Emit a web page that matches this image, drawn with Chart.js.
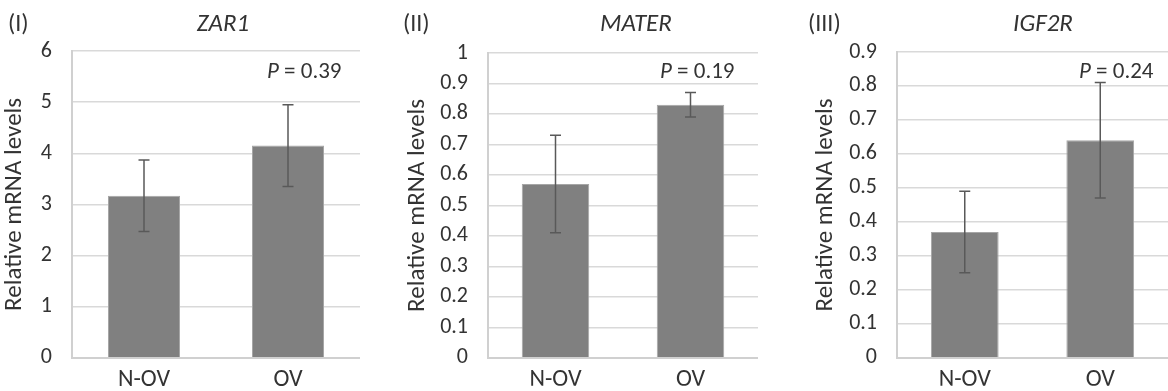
<!DOCTYPE html>
<html>
<head>
<meta charset="utf-8">
<script src="https://cdn.jsdelivr.net/npm/chart.js@4/dist/chart.umd.min.js"></script>
<style>
  body { margin: 0; background: #fff; }
  #wrap { position: relative; width: 1168px; height: 391px; overflow: hidden; }
  canvas { position: absolute; top: 0; }
</style>
</head>
<body>
<div id="wrap">
  <canvas id="c1" width="360" height="391" style="left:0px"></canvas>
  <canvas id="c2" width="368" height="391" style="left:390px"></canvas>
  <canvas id="c3" width="388" height="391" style="left:780px"></canvas>
</div>
<script>
// データ
const categories = ['N-OV', 'OV'];
const zar1Means = [3.17, 4.15];
const zar1Errors = [0.70, 0.80];
const materMeans = [0.57, 0.83];
const materErrors = [0.16, 0.04];
const igf2rMeans = [0.37, 0.64];
const igf2rErrors = [0.12, 0.17];
const panelLabels = ['(I)', '(II)', '(III)'];
const geneNames = ['ZAR1', 'MATER', 'IGF2R'];
const pValues = ['0.39', '0.19', '0.24'];
const yMax = [6, 1, 0.9];
const yStep = [1, 0.1, 0.1];
const yTitle = 'Relative mRNA levels';

const FONT = 'Carlito, Lato, sans-serif';
const TEXT = '#333333';

// 誤差棒
const errorBars = {
  id: 'errorBars',
  afterDatasetsDraw(chart, args, opts) {
    let ctx = chart.ctx;
    let y = chart.scales.y;
    let meta = chart.getDatasetMeta(0);
    let means = chart.data.datasets[0].data;
    ctx.save();
    ctx.strokeStyle = '#595959';
    ctx.lineWidth = 1.5;
    meta.data.forEach((bar, i) => {
      let top = y.getPixelForValue(means[i] + opts.errors[i]);
      let bot = y.getPixelForValue(means[i] - opts.errors[i]);
      ctx.beginPath();
      ctx.moveTo(bar.x, top); ctx.lineTo(bar.x, bot);
      ctx.moveTo(bar.x - 5.5, top); ctx.lineTo(bar.x + 5.5, top);
      ctx.moveTo(bar.x - 5.5, bot); ctx.lineTo(bar.x + 5.5, bot);
      ctx.stroke();
    });
    ctx.restore();
  }
};

// ラベル類
const labels = {
  id: 'labels',
  afterDraw(chart, args, opts) {
    let ctx = chart.ctx;
    ctx.save();
    ctx.fillStyle = TEXT;
    ctx.textBaseline = 'middle';
    ctx.font = '24px ' + FONT;
    ctx.textAlign = 'left';
    ctx.fillText(opts.panel, opts.panelX, 25);
    ctx.font = 'italic 25px ' + FONT;
    ctx.textAlign = 'center';
    ctx.fillText(opts.gene, opts.geneX, 25);
    // P = x.xx
    ctx.textAlign = 'left';
    ctx.font = 'italic 23px ' + FONT;
    let x = opts.pX;
    ctx.fillText('P', x, 72);
    x += ctx.measureText('P').width;
    ctx.font = '23px ' + FONT;
    ctx.fillText(' = ' + opts.p, x, 72);
    ctx.restore();
  }
};

function makePanel(id, i, means, errors, geo) {
  return new Chart(document.getElementById(id), {
    type: 'bar',
    data: {
      labels: categories,
      datasets: [{
        data: means,
        backgroundColor: '#808080',
        borderColor: '#a6a6a6',
        borderWidth: 1,
        categoryPercentage: 1,
        barPercentage: 0.5,
      }],
    },
    options: {
      responsive: false,
      animation: false,
      layout: { padding: { top: geo.top, left: 0, right: 0, bottom: 0 } },
      plugins: {
        legend: { display: false },
        tooltip: { enabled: false },
        errorBars: { errors: errors },
        labels: { panel: panelLabels[i], gene: geneNames[i], p: pValues[i],
                  panelX: geo.panelX, geneX: geo.geneX, pX: geo.pX },
      },
      scales: {
        x: {
          grid: { display: false },
          border: { color: '#d0d0d0', width: 2 },
          ticks: { color: TEXT, font: { family: FONT, size: 24 }, padding: 0 },
          afterFit: (s) => { s.height = 391 - geo.bottom; },
        },
        y: {
          min: 0,
          max: yMax[i],
          grid: { color: '#d9d9d9', lineWidth: 1.5, drawTicks: false },
          border: { color: '#d0d0d0', width: 2 },
          ticks: {
            stepSize: yStep[i],
            color: TEXT,
            padding: 20,
            font: { family: FONT, size: 22 },
            callback: (v) => String(Math.round(v * 10) / 10),
          },
          title: {
            display: true,
            text: yTitle,
            color: TEXT,
            font: { family: FONT, size: 25 },
            padding: { top: geo.titlePad, bottom: 0 },
          },
          afterFit: (s) => { s.width = geo.axisW; },
        },
      },
    },
    plugins: [errorBars, labels],
  });
}

makePanel('c1', 0, zar1Means, zar1Errors,
  { top: 51, bottom: 360, axisW: 72, titlePad: 0, panelX: 8, geneX: 223, pX: 267 });
makePanel('c2', 1, materMeans, materErrors,
  { top: 53, bottom: 363, axisW: 98, titlePad: 13, panelX: 13, geneX: 246, pX: 270 });
makePanel('c3', 2, igf2rMeans, igf2rErrors,
  { top: 52, bottom: 363, axisW: 117, titlePad: 31, panelX: 28, geneX: 263, pX: 299 });
</script>
</body>
</html>
